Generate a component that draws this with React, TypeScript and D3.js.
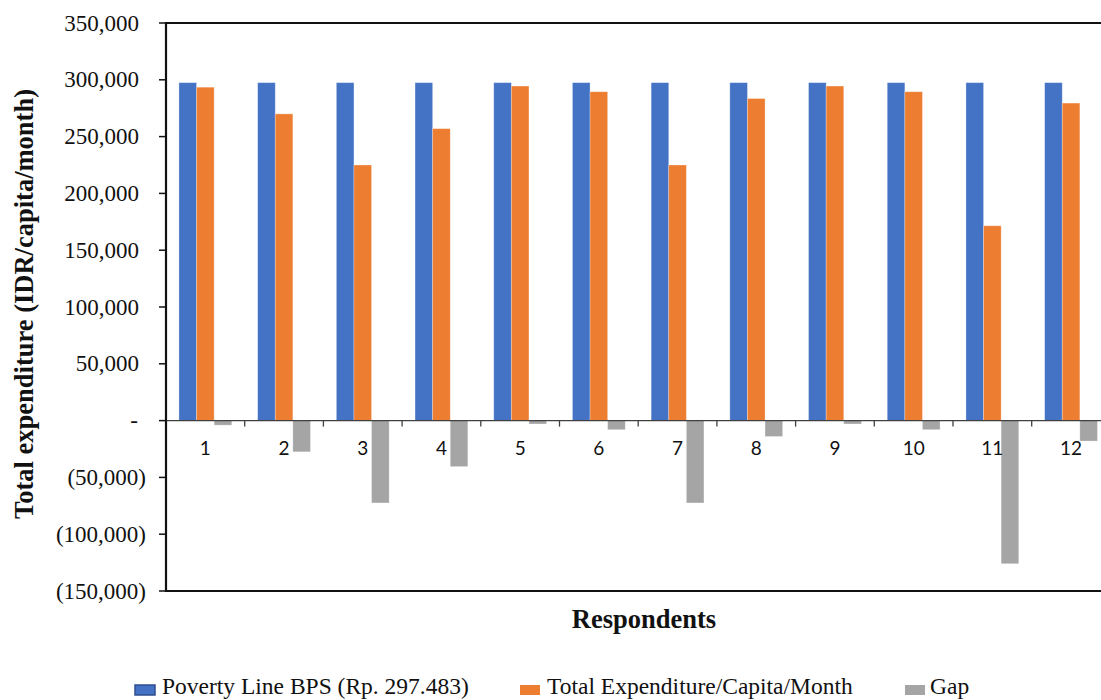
import React from "react";
import * as d3 from "d3";

const respondents = ["1", "2", "3", "4", "5", "6", "7", "8", "9", "10", "11", "12"];
const povertyLine = [297483, 297483, 297483, 297483, 297483, 297483, 297483, 297483, 297483, 297483, 297483, 297483];
const expenditure = [293500, 270000, 225000, 257000, 294500, 289500, 225000, 283500, 294500, 289500, 171500, 279500];
const gap = [-4000, -27500, -72500, -40500, -3000, -8000, -72500, -14000, -3000, -8000, -126000, -18000];
const yTicks = [350000, 300000, 250000, 200000, 150000, 100000, 50000, 0, -50000, -100000, -150000];
const seriesNames = ["Poverty Line BPS (Rp. 297.483)", "Total Expenditure/Capita/Month", "Gap"];
const seriesColors = ["#4472C4", "#ED7D31", "#A5A5A5"];

export default function App() {
  const W = 1101, H = 700;
  const left = 166, top = 23, bottom = 591;
  const bandW = 78.7;
  const x = d3.scaleBand<string>().domain(respondents).range([left, left + bandW * respondents.length]).paddingInner(0).paddingOuter(0);
  const y = d3.scaleLinear().domain([-150000, 350000]).range([bottom, top]);
  const barW = 17.6;
  const groupOffset = (bandW - 3 * barW) / 2;
  const fmt = (v: number) => {
    if (v === 0) return "-";
    const s = d3.format(",")(Math.abs(v));
    return v < 0 ? `(${s})` : s;
  };
  const series = [povertyLine, expenditure, gap];
  const serif = "'Liberation Serif', 'Times New Roman', serif";
  const y0 = y(0);
  return (
    <svg width={W} height={H} style={{ position: "absolute", left: 0, top: 0, background: "#fff" }}>
      <rect x={0} y={0} width={W} height={H} fill="#fff" />
      {/* bars */}
      {respondents.map((r, i) => (
        <g key={r}>
          {series.map((s, k) => {
            const v = s[i];
            const bx = (x(r) as number) + groupOffset + k * barW;
            const yTop = Math.min(y(v), y0);
            const h = Math.abs(y(v) - y0);
            return (
              <rect key={k} x={bx} y={yTop} width={barW} height={h} fill={seriesColors[k]} stroke="rgba(255,255,255,0.35)" strokeWidth={0.8} />
            );
          })}
        </g>
      ))}
      {/* zero line */}
      <line x1={left} x2={W} y1={y0} y2={y0} stroke="#404040" strokeWidth={1.3} />
      {/* x ticks at band boundaries */}
      {respondents.slice(1).map((r) => (
        <line key={r} x1={x(r) as number} x2={x(r) as number} y1={y0} y2={y0 + 6} stroke="#404040" strokeWidth={1.3} />
      ))}
      {/* frame */}
      <line x1={left} x2={W} y1={top} y2={top} stroke="#111" strokeWidth={2.2} />
      <line x1={left} x2={W} y1={bottom} y2={bottom} stroke="#111" strokeWidth={2.2} />
      <line x1={left} x2={left} y1={top - 1} y2={bottom + 1} stroke="#111" strokeWidth={2.2} />
      {/* y ticks */}
      {yTicks.map((t) => (
        <g key={t}>
          <line x1={left - 7} x2={left} y1={y(t)} y2={y(t)} stroke="#111" strokeWidth={1.5} />
          <text
            x={t === 0 ? 134 : t < 0 ? 146 : 139}
            y={y(t)}
            dy="0.33em"
            textAnchor={t === 0 ? "middle" : "end"}
            fontFamily={serif}
            fontSize={23}
            fill="#111"
          >
            {fmt(t)}
          </text>
        </g>
      ))}
      {/* x labels */}
      {respondents.map((r) => (
        <text key={r} x={(x(r) as number) + bandW / 2} y={y0 + 34} textAnchor="middle" fontFamily="Lato, 'Open Sans', sans-serif" fontSize={19} fill="#111">
          {r}
        </text>
      ))}
      {/* axis titles */}
      <text transform={`translate(33,304) rotate(-90)`} textAnchor="middle" fontFamily={serif} fontWeight="bold" fontSize={26.5} fill="#111">
        Total expenditure (IDR/capita/month)
      </text>
      <text x={644} y={628} textAnchor="middle" fontFamily={serif} fontWeight="bold" fontSize={26.5} fill="#111">
        Respondents
      </text>
      {/* legend */}
      {[
        { sx: 135, tx: 162 },
        { sx: 520, tx: 547 },
        { sx: 905, tx: 930 },
      ].map((p, k) => (
        <g key={k}>
          <rect x={p.sx} y={685} width={20} height={10} fill={seriesColors[k]} stroke={k === 0 ? "#2F4F8F" : "none"} strokeWidth={1.5} />
          <text x={p.tx} y={694} fontFamily={serif} fontSize={23.5} fill="#111">
            {seriesNames[k]}
          </text>
        </g>
      ))}
    </svg>
  );
}
